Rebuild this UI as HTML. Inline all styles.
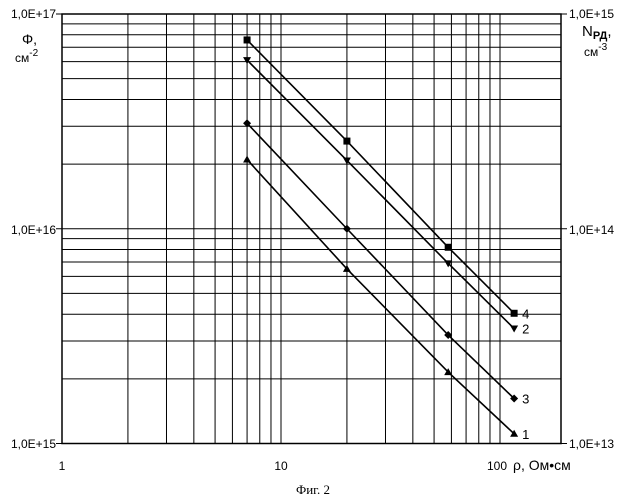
<!DOCTYPE html>
<html><head><meta charset="utf-8"><style>
body{margin:0;background:#fff}
svg{display:block;font-family:"Liberation Sans",sans-serif}
</style></head><body>
<svg id="c" width="627" height="500" viewBox="0 0 627 500" xmlns="http://www.w3.org/2000/svg">
<g id="grid"></g>
<rect x="62" y="14" width="499" height="429.5" fill="none" stroke="#000" stroke-width="1.5"/>
<g id="series"></g>
<g font-size="12" fill="#000">
<text x="56" y="18" text-anchor="end">1,0E+17</text>
<text x="56" y="234" text-anchor="end">1,0E+16</text>
<text x="56" y="448" text-anchor="end">1,0E+15</text>
<text x="22" y="44" font-size="14">Φ,</text>
<text x="15" y="62">см<tspan font-size="10" dy="-6">-2</tspan></text>
<text x="569" y="18">1,0E+15</text>
<text x="569" y="234">1,0E+14</text>
<text x="569" y="448">1,0E+13</text>
<text x="582" y="36" font-size="15">N<tspan font-size="11" font-weight="bold" dy="3">РД</tspan><tspan dy="-3">,</tspan></text>
<text x="584" y="56">см<tspan font-size="10" dy="-6">-3</tspan></text>
<text x="62" y="470" text-anchor="middle">1</text>
<text x="281" y="470" text-anchor="middle">10</text>
<text x="487" y="470">100</text>
<text x="513" y="470" font-size="14">ρ, Ом•см</text>
</g>
<text x="313" y="494" font-family="Liberation Serif,serif" font-size="13" text-anchor="middle">Фиг. 2</text>
</svg>
<script>
const xValues=[7,20,58,116];
const series1=[2.1e16,6.5e15,2.15e15,1.11e15];
const series2=[6.1e16,2.08e16,6.9e15,3.43e15];
const series3=[3.1e16,1.0e16,3.2e15,1.62e15];
const series4=[7.57e16,2.56e16,8.2e15,4.04e15];
const seriesLabels=["1","2","3","4"];
const xTicks=[1,10,100];
const NS="http://www.w3.org/2000/svg";
const X=v=>62+219*Math.log10(v);
const Y=v=>14+214.75*(17-Math.log10(v));
function mk(t,a,p){const e=document.createElementNS(NS,t);for(const k in a)e.setAttribute(k,a[k]);p.appendChild(e);return e;}
const g=document.getElementById('grid');
for(let d=1;d<=100;d*=10)for(let m=1;m<=9;m++){const v=d*m;if(v>100&&v!==100)continue;if(d===100&&m>1)continue;
 const l=mk('line',{x1:X(v),x2:X(v),y1:14,y2:443.5,stroke:'#000','stroke-width':1},g);
 
 }
for(let d=1e15;d<1e17;d*=10)for(let m=1;m<=9;m++){const v=d*m;
 const l=mk('line',{x1:62,x2:561,y1:Y(v),y2:Y(v),stroke:'#000','stroke-width':1},g);
 
 }
[14,228.75,443.5].forEach(y=>{const a=mk('line',{x1:56,x2:62,y1:y,y2:y,stroke:'#000'},g);
 const b=mk('line',{x1:561,x2:567,y1:y,y2:y,stroke:'#000'},g);});
const s=document.getElementById('series');
const all=[series1,series2,series3,series4];
const marker=['tri','tridown','diamond','square'];
all.forEach((ser,i)=>{
 const pts=ser.map((v,j)=>X(xValues[j])+','+Y(v)).join(' ');
 const pl=mk('polyline',{points:pts,fill:'none',stroke:'#000','stroke-width':1.6},s);
 
 
 ser.forEach((v,j)=>{const x=X(xValues[j]),y=Y(v);let m;
  if(marker[i]==='square')m=mk('rect',{x:x-3.5,y:y-3.5,width:7,height:7},s);
  else if(marker[i]==='diamond')m=mk('polygon',{points:`${x},${y-4} ${x+4},${y} ${x},${y+4} ${x-4},${y}`},s);
  else if(marker[i]==='tri')m=mk('polygon',{points:`${x},${y-4} ${x+4},${y+3} ${x-4},${y+3}`},s);
  else m=mk('polygon',{points:`${x-4},${y-3} ${x+4},${y-3} ${x},${y+4}`},s);
  
  });
 const last=ser.length-1;
 const t=mk('text',{x:X(xValues[last])+8,y:Y(ser[last])+5,'font-size':13},s);
 t.textContent=seriesLabels[i];
 
 
});
</script>
</body></html>
